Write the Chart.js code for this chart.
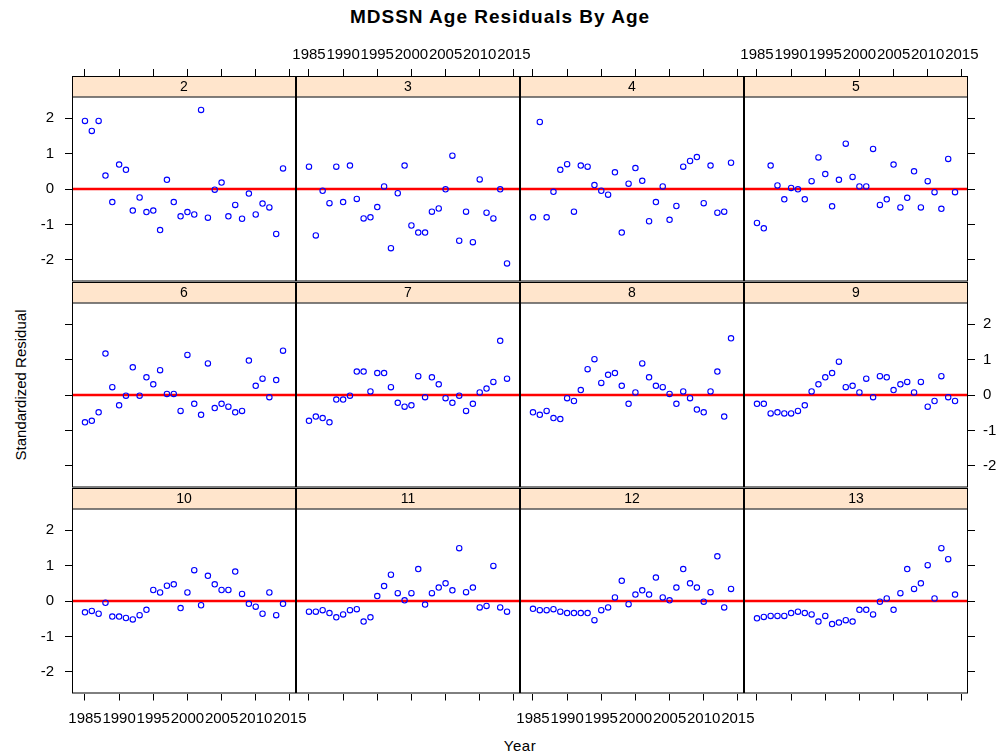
<!DOCTYPE html>
<html>
<head>
<meta charset="utf-8">
<script src="https://cdn.jsdelivr.net/npm/chart.js@4.4.1/dist/chart.umd.min.js"></script>
<style>
  body { margin: 0; background: #fff; }
  #wrap { position: relative; width: 1000px; height: 755px; overflow: hidden;
          font-family: "Liberation Sans", Arial, sans-serif; color: #000; }
  #wrap canvas { position: absolute; left: 0; top: 0; }
  #title { position: absolute; left: 0; width: 1000px; top: 6px; text-align: center;
           font-weight: bold; font-size: 19px; letter-spacing: 1px; }
  #ylab { position: absolute; left: 20px; top: 385px; font-size: 15px; white-space: nowrap;
          transform: translate(-50%, -50%) rotate(-90deg); }
  #xlab { position: absolute; left: 520px; top: 745px; font-size: 15px; letter-spacing: 0.5px;
          transform: translate(-50%, -50%); }
</style>
</head>
<body>
<div id="wrap">
  <div id="title">MDSSN Age Residuals By Age</div>
  <div id="ylab">Standardized Residual</div>
  <div id="xlab">Year</div>
</div>
<script>
// Donnees
const years = [1985, 1986, 1987, 1988, 1989, 1990, 1991, 1992, 1993, 1994,
               1995, 1996, 1997, 1998, 1999, 2000, 2001, 2002, 2003, 2004,
               2005, 2006, 2007, 2008, 2009, 2010, 2011, 2012, 2013, 2014];
const ages = ['2', '3', '4', '5', '6', '7', '8', '9', '10', '11', '12', '13'];

const resid2 = [1.92, 1.64, 1.92, 0.38, -0.37, 0.69, 0.54, -0.61, -0.24, -0.65, -0.61, -1.16, 0.26, -0.37, -0.77, -0.65, -0.72, 2.23, -0.81, -0.02, 0.18, -0.77, -0.45, -0.84, -0.13, -0.72, -0.41, -0.52, -1.27, 0.58];
const resid3 = [0.63, -1.31, -0.05, -0.40, 0.63, -0.37, 0.66, -0.28, -0.83, -0.80, -0.51, 0.07, -1.67, -0.12, 0.66, -1.03, -1.23, -1.23, -0.64, -0.55, -0.01, 0.94, -1.46, -0.64, -1.50, 0.27, -0.67, -0.83, -0.01, -2.10];
const resid4 = [-0.80, 1.89, -0.80, -0.08, 0.54, 0.70, -0.64, 0.66, 0.63, 0.11, -0.05, -0.16, 0.47, -1.23, 0.15, 0.59, 0.23, -0.91, -0.37, 0.07, -0.87, -0.48, 0.63, 0.79, 0.90, -0.40, 0.66, -0.67, -0.64, 0.74];
const resid5 = [-0.96, -1.11, 0.66, 0.10, -0.29, 0.03, -0.01, -0.29, 0.22, 0.89, 0.42, -0.49, 0.26, 1.28, 0.34, 0.07, 0.07, 1.13, -0.45, -0.29, 0.69, -0.52, -0.25, 0.50, -0.52, 0.22, -0.09, -0.56, 0.85, -0.09];
const resid6 = [-0.77, -0.73, -0.49, 1.17, 0.22, -0.29, -0.02, 0.78, -0.02, 0.50, 0.30, 0.70, 0.03, 0.03, -0.45, 1.13, -0.25, -0.56, 0.89, -0.37, -0.25, -0.33, -0.49, -0.45, 0.97, 0.26, 0.46, -0.06, 0.42, 1.25];
const resid7 = [-0.73, -0.61, -0.65, -0.77, -0.13, -0.13, -0.02, 0.66, 0.66, 0.10, 0.62, 0.62, 0.22, -0.22, -0.33, -0.29, 0.53, -0.06, 0.50, 0.30, -0.09, -0.22, -0.02, -0.45, -0.25, 0.07, 0.18, 0.37, 1.53, 0.46];
const resid8 = [-0.49, -0.56, -0.45, -0.65, -0.68, -0.09, -0.17, 0.14, 0.73, 1.01, 0.34, 0.57, 0.62, 0.26, -0.25, 0.07, 0.89, 0.50, 0.26, 0.22, 0.03, -0.25, 0.10, -0.09, -0.41, -0.49, 0.10, 0.66, -0.61, 1.60];
const resid9 = [-0.25, -0.25, -0.52, -0.49, -0.52, -0.52, -0.45, -0.29, 0.10, 0.30, 0.50, 0.62, 0.94, 0.22, 0.26, 0.07, 0.46, -0.06, 0.53, 0.50, 0.14, 0.30, 0.37, 0.07, 0.37, -0.33, -0.17, 0.53, -0.06, -0.17];
const resid10 = [-0.32, -0.28, -0.36, -0.05, -0.44, -0.44, -0.48, -0.52, -0.40, -0.25, 0.31, 0.24, 0.43, 0.47, -0.20, 0.24, 0.87, -0.12, 0.71, 0.47, 0.31, 0.31, 0.83, 0.20, -0.08, -0.16, -0.36, 0.24, -0.40, -0.08];
const resid11 = [-0.30, -0.30, -0.26, -0.34, -0.46, -0.38, -0.26, -0.23, -0.58, -0.46, 0.14, 0.42, 0.74, 0.22, 0.02, 0.22, 0.90, -0.10, 0.22, 0.38, 0.50, 0.30, 1.49, 0.25, 0.38, -0.18, -0.14, 0.99, -0.18, -0.30];
const resid12 = [-0.22, -0.26, -0.26, -0.23, -0.30, -0.34, -0.34, -0.34, -0.34, -0.54, -0.26, -0.18, 0.10, 0.57, -0.09, 0.18, 0.30, 0.18, 0.66, 0.10, 0.02, 0.38, 0.90, 0.50, 0.38, -0.02, 0.25, 1.26, -0.18, 0.34];
const resid13 = [-0.49, -0.45, -0.42, -0.42, -0.42, -0.34, -0.30, -0.34, -0.38, -0.58, -0.42, -0.65, -0.61, -0.54, -0.58, -0.25, -0.25, -0.38, -0.02, 0.07, -0.25, 0.22, 0.90, 0.34, 0.50, 1.01, 0.07, 1.49, 1.18, 0.18];

const residuals = [resid2, resid3, resid4, resid5, resid6, resid7, resid8, resid9, resid10, resid11, resid12, resid13];

const xTicks = [1985, 1990, 1995, 2000, 2005, 2010, 2015];
const yTicks = [-2, -1, 0, 1, 2];
const refValue = 0;

// Mise en page (lattice 4 x 3)
const xLim = [1983.1, 2015.9];
const yLim = 2.61;
const colLeft = [72, 296, 520, 744];
const rowTop = [76, 282, 488];
const panelW = 224;
const rowH = 205.5;
const stripH = 20.5;
const axisSize = { left: 72, right: 32, top: 40, bottom: 40 };
const fontFamily = '"Liberation Sans", Arial, sans-serif';
const tickFont = { family: fontFamily, size: 15 };

// Bandeau + cadre de chaque panneau
const stripPlugin = {
    id: 'strip',
    afterDatasetsDraw(chart, args, opts) {
        const { ctx, chartArea: a } = chart;
        ctx.save();
        ctx.fillStyle = '#FFE5CC';
        ctx.fillRect(a.left, a.top, a.right - a.left, stripH);
        ctx.strokeStyle = '#000';
        ctx.lineWidth = 1;
        ctx.beginPath();
        ctx.moveTo(a.left, a.top + stripH + 0.5);
        ctx.lineTo(a.right, a.top + stripH + 0.5);
        ctx.stroke();
        ctx.strokeRect(a.left + 0.5, a.top + 0.5, a.right - a.left - 1, a.bottom - a.top - 1);
        ctx.fillStyle = '#000';
        ctx.font = '14px ' + fontFamily;
        ctx.textAlign = 'center';
        ctx.textBaseline = 'middle';
        ctx.fillText(opts.label, (a.left + a.right) / 2, a.top + stripH / 2 + 1);
        ctx.restore();
    }
};

function tickAxis(position, show, labels, size, values, padding) {
    const horizontal = position === 'top' || position === 'bottom';
    return {
        type: 'linear',
        position: position,
        display: show,
        grid: { drawOnChartArea: false, drawTicks: true, tickLength: 7, color: '#000', lineWidth: 1 },
        border: { display: false },
        ticks: {
            display: labels,
            font: tickFont,
            color: '#000',
            autoSkip: false,
            maxRotation: 0,
            padding: padding,
            callback: (v) => String(v)
        },
        afterBuildTicks: (s) => { s.ticks = values.map(v => ({ value: v })); },
        afterFit: (s) => {
            if (!show) return;
            if (horizontal) s.height = size; else s.width = size;
        }
    };
}

function makePanel(i) {
    const row = Math.floor(i / 4), col = i % 4;
    const L = colLeft[col], R = L + panelW, T = rowTop[row], B = T + rowH;
    const hasLeft = col === 0, hasRight = col === 3, hasTop = row === 0, hasBottom = row === 2;
    const yMax = yLim + stripH * (2 * yLim) / (rowH - stripH);

    const canvas = document.createElement('canvas');
    canvas.width = 1000;
    canvas.height = 755;
    document.getElementById('wrap').appendChild(canvas);

    const xs = tickAxis('bottom', hasBottom, col % 2 === 0, axisSize.bottom, xTicks, 9);
    const xt = tickAxis('top', hasTop, col % 2 === 1, axisSize.top, xTicks, 5);
    const yl = tickAxis('left', hasLeft, row !== 1, axisSize.left, yTicks, 11);
    const yr = tickAxis('right', hasRight, row === 1, axisSize.right, yTicks, 8);
    [xs, xt].forEach(s => { s.min = xLim[0]; s.max = xLim[1]; });
    [yl, yr].forEach(s => { s.min = -yLim; s.max = yMax; });

    new Chart(canvas, {
        type: 'scatter',
        data: {
            datasets: [{
                type: 'line',
                data: [{ x: xLim[0], y: refValue }, { x: xLim[1], y: refValue }],
                borderColor: '#FF0000',
                borderWidth: 2.5,
                pointRadius: 0,
                order: 2
            }, {
                data: years.map((y, k) => ({ x: y, y: residuals[i][k] })),
                pointStyle: 'circle',
                pointRadius: 2.7,
                borderWidth: 1.1,
                borderColor: '#0000FF',
                backgroundColor: 'rgba(0,0,0,0)',
                order: 1
            }]
        },
        options: {
            responsive: false,
            animation: false,
            events: [],
            layout: {
                padding: {
                    left: L - (hasLeft ? axisSize.left : 0),
                    right: 1000 - R - (hasRight ? axisSize.right : 0),
                    top: T - (hasTop ? axisSize.top : 0),
                    bottom: 755 - B - (hasBottom ? axisSize.bottom : 0)
                }
            },
            plugins: {
                legend: { display: false },
                tooltip: { enabled: false },
                strip: { label: ages[i] }
            },
            scales: { x: xs, xt: xt, y: yl, yr: yr }
        },
        plugins: [stripPlugin]
    });
}

ages.forEach((a, i) => makePanel(i));
</script>
</body>
</html>
